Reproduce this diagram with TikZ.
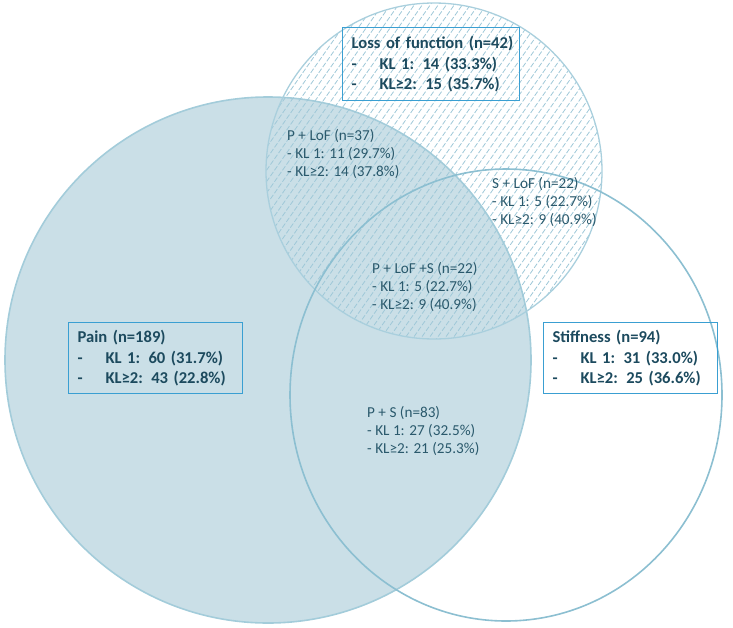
\documentclass[tikz,border=0pt]{standalone}
\usepackage{fontspec}
\setmainfont{Carlito}
\usetikzlibrary{calc}
\definecolor{painfill}{HTML}{CADFE7}
\definecolor{ringblue}{HTML}{8CBFD1}
\definecolor{hatchblue}{HTML}{9FC8D8}
\definecolor{boxblue}{HTML}{3A9FD2}
\definecolor{txtdark}{HTML}{1C4A5E}
\definecolor{txtsmall}{HTML}{2A596C}
\tikzset{
  ring/.style={draw=ringblue, line width=1.6pt},
  hatchline/.style={draw=hatchblue, line width=0.8pt, dash pattern=on 5pt off 2pt},
  catbox/.style={draw=boxblue, line width=1.2pt, anchor=north west, align=left,
    inner xsep=9pt, inner ysep=0pt, font=\fontsize{16.6}{20.5}\selectfont\bfseries, text=txtdark},
  lbl/.style={anchor=north west, align=left, inner sep=0pt,
    font=\fontsize{15.2}{18}\selectfont, text=txtsmall}
}
\newcommand{\dashitem}[1]{\mbox{\makebox[28pt][l]{-}#1}}
\begin{document}
\begin{tikzpicture}[x=1pt,y=-1pt]
\useasboundingbox (0,0) rectangle (733,627);
\coordinate (pc) at (268,360);
\coordinate (lc) at (434,171);
\coordinate (sc) at (506,395);
% Pain
\fill[painfill] (pc) circle (263pt);
\draw[ring, draw=ringblue!80] (pc) circle (263pt);
% Loss of function hatching
\begin{scope}
  \clip (lc) circle (168pt);
  \foreach \o in {-440,-432,...,440}
    \draw[hatchline] ($(lc)+(\o-140,200)$) -- ($(lc)+(\o+140,-200)$);
\end{scope}
\draw[ring, draw=ringblue!75, line width=1.3pt] (lc) circle (168pt);
% Stiffness
\draw[ring] (sc) ellipse [x radius=216pt, y radius=226pt];
% category boxes
\node[catbox, minimum width=177pt, minimum height=73pt, text width=159pt] (lofbox) at (342,27)
  {\mbox{Loss of function (n=42)}\\\dashitem{KL 1: 14 (33.3\%)}\\\dashitem{KL≥2: 15 (35.7\%)}};
\node[catbox, minimum width=174pt, minimum height=71pt, text width=156pt] (painbox) at (68,322)
  {\mbox{Pain (n=189)}\\\dashitem{KL 1: 60 (31.7\%)}\\\dashitem{KL≥2: 43 (22.8\%)}};
\node[catbox, minimum width=174pt, minimum height=71pt, text width=156pt] (stiffbox) at (543,322)
  {\mbox{Stiffness (n=94)}\\\dashitem{KL 1: 31 (33.0\%)}\\\dashitem{KL≥2: 25 (36.6\%)}};
% overlap labels
\node[lbl] (plof) at (287,129) {P + LoF (n=37)\\- KL 1: 11 (29.7\%)\\- KL≥2: 14 (37.8\%)};
\node[lbl] (slof) at (492,177) {S + LoF (n=22)\\- KL 1: 5 (22.7\%)\\- KL≥2: 9 (40.9\%)};
\node[lbl] (plofs) at (372,262) {P + LoF +S (n=22)\\- KL 1: 5 (22.7\%)\\- KL≥2: 9 (40.9\%)};
\node[lbl] (ps) at (367,406) {P + S (n=83)\\- KL 1: 27 (32.5\%)\\- KL≥2: 21 (25.3\%)};
\end{tikzpicture}
\end{document}
